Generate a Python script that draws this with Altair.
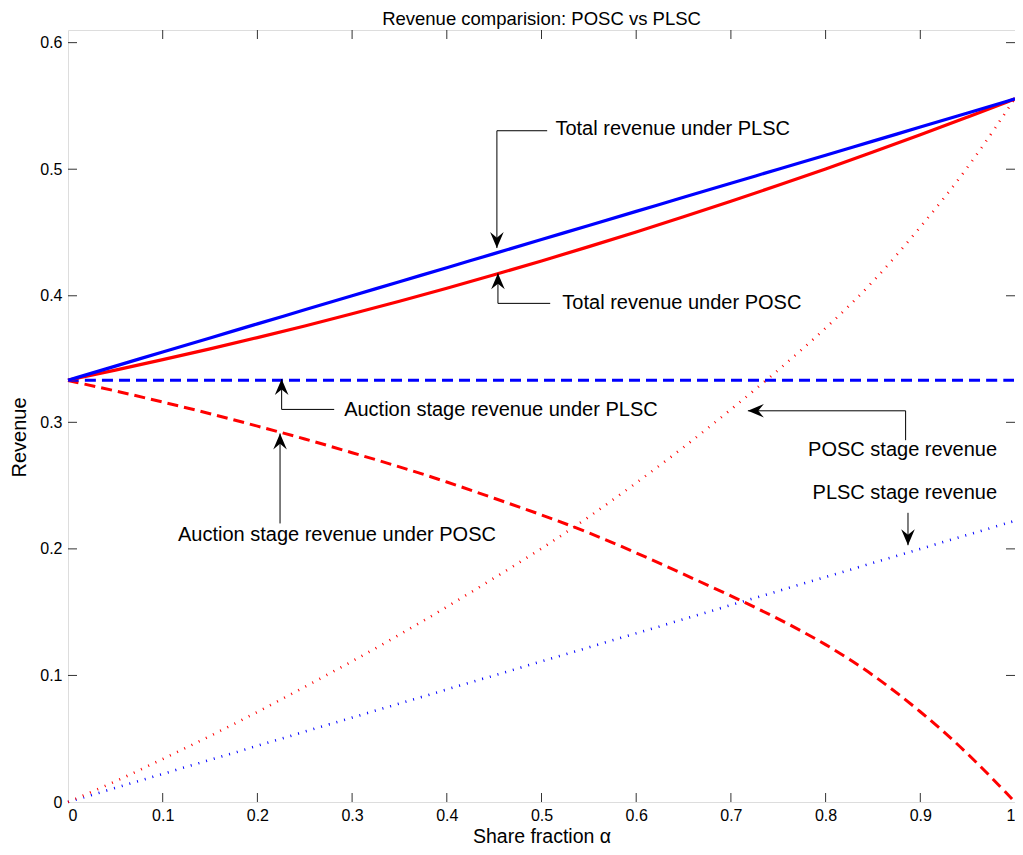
import altair as alt
import pandas as pd

FONT = "Liberation Sans"

# ---- data ----
alpha = [0.00, 0.05, 0.10, 0.15, 0.20, 0.25, 0.30, 0.35, 0.40, 0.45, 0.50,
         0.55, 0.60, 0.65, 0.70, 0.75, 0.80, 0.85, 0.90, 0.95, 1.00]
total_plsc = [0.3333, 0.3444, 0.3556, 0.3667, 0.3778, 0.3889, 0.4000, 0.4111, 0.4222, 0.4333,
              0.4444, 0.4556, 0.4667, 0.4778, 0.4889, 0.5000, 0.5111, 0.5222, 0.5333, 0.5444,
              0.5556]
total_posc = [0.3333, 0.3412, 0.3495, 0.3580, 0.3669, 0.3761, 0.3857, 0.3956, 0.4059, 0.4165,
              0.4274, 0.4388, 0.4504, 0.4623, 0.4746, 0.4872, 0.5002, 0.5135, 0.5272, 0.5412,
              0.5556]
auction_plsc = [0.3333] * 21
auction_posc = [0.333, 0.325, 0.316, 0.307, 0.297, 0.287, 0.276, 0.265, 0.253, 0.240, 0.227,
                0.213, 0.197, 0.180, 0.163, 0.145, 0.125, 0.101, 0.072, 0.039, 0.000]
stage_posc = [0.000, 0.016, 0.034, 0.052, 0.071, 0.091, 0.111, 0.132, 0.154, 0.177, 0.200,
              0.225, 0.252, 0.280, 0.310, 0.341, 0.374, 0.410, 0.454, 0.500, 0.556]
stage_plsc = [0.0000, 0.0111, 0.0222, 0.0333, 0.0444, 0.0556, 0.0667, 0.0778, 0.0889, 0.1000,
              0.1111, 0.1222, 0.1333, 0.1444, 0.1556, 0.1667, 0.1778, 0.1889, 0.2000, 0.2111,
              0.2222]

x_ticks = [0.0, 0.1, 0.2, 0.3, 0.4, 0.5, 0.6, 0.7, 0.8, 0.9, 1.0]
y_ticks = [0.0, 0.1, 0.2, 0.3, 0.4, 0.5, 0.6]
x_inner_ticks = [0.1, 0.2, 0.3, 0.4, 0.5, 0.6, 0.7, 0.8, 0.9]
y_inner_ticks = [0.1, 0.2, 0.3, 0.4, 0.5, 0.6]

title_text = "Revenue comparision: POSC vs PLSC"

# annotations (data coordinates)
ann_text = ["Total revenue under PLSC", "Total revenue under POSC",
            "Auction stage revenue under PLSC", "Auction stage revenue under POSC",
            "POSC stage revenue", "PLSC stage revenue"]
ann_tx = [0.5147, 0.522, 0.2916, 0.284, 0.9811, 0.9811]
ann_ty = [0.532, 0.3942, 0.3097, 0.2108, 0.278, 0.244]
ann_align = ["left", "left", "left", "center", "right", "right"]

seg_x = [0.506, 0.4529, 0.5092, 0.4540, 0.2811, 0.2256, 0.2239, 0.8845, 0.8845, 0.8870]
seg_y = [0.5304, 0.5304, 0.394, 0.394, 0.3102, 0.3102, 0.2201, 0.2859, 0.3091, 0.2285]
seg_x2 = [0.4529, 0.4529, 0.4540, 0.4540, 0.2256, 0.2256, 0.2239, 0.8845, 0.7179, 0.8870]
seg_y2 = [0.5304, 0.4377, 0.394, 0.4177, 0.3102, 0.3342, 0.2912, 0.3091, 0.3091, 0.2029]

tip_x = [0.4529, 0.4540, 0.2256, 0.2239, 0.7179, 0.8870]
tip_y = [0.4377, 0.4177, 0.3342, 0.2912, 0.3091, 0.2029]
tip_angle = [180, 0, 0, 0, 270, 180]

W, H = 947, 772
RED, BLUE = "#ff0000", "#0000ff"

label_expr = "datum.value == 0 ? '0' : datum.value == 1 ? '1' : format(datum.value, '.1f')"

x_scale = alt.Scale(domain=[0, 1], nice=False, zero=False)
y_scale = alt.Scale(domain=[0, 0.61], nice=False, zero=False)

x_axis = alt.Axis(values=x_ticks, labelExpr=label_expr, grid=False, ticks=False, domain=False,
                  labelFont=FONT, labelFontSize=16, labelColor="black", labelPadding=5,
                  title="Share fraction α", titleFont=FONT, titleFontSize=19.5,
                  titleFontWeight="normal", titleColor="black", titleBaseline="alphabetic",
                  titleAlign="center", titleX=W / 2, titleY=40)
y_axis = alt.Axis(values=y_ticks, labelExpr=label_expr, grid=False, ticks=False, domain=False,
                  labelFont=FONT, labelFontSize=16, labelColor="black", labelPadding=6,
                  title="Revenue", titleFont=FONT, titleFontSize=20, titleFontWeight="normal",
                  titleColor="black", titleAngle=-90, titleBaseline="alphabetic",
                  titleAlign="center", titleX=-43, titleY=407)

X = alt.X("alpha:Q", scale=x_scale, axis=x_axis)
Y = alt.Y("rev:Q", scale=y_scale, axis=y_axis)


def series(vals):
    return pd.DataFrame({"alpha": alpha, "rev": vals})


def line(vals, color, dash=None, width=3.0):
    kw = dict(color=color, strokeWidth=width, interpolate="basis", strokeCap="butt")
    if dash is not None:
        kw["strokeDash"] = dash
    return alt.Chart(series(vals)).mark_line(**kw).encode(x=X, y=Y)


lines = [
    line(stage_plsc, BLUE, [1, 7], 2.6),
    line(stage_posc, RED, [1, 7], 2.6),
    line(auction_posc, RED, [11, 6], 3.0),
    line(auction_plsc, BLUE, [11, 6], 3.0),
    line(total_posc, RED, None, 3.2),
    line(total_plsc, BLUE, None, 3.2),
]

xt = pd.DataFrame({"alpha": x_inner_ticks})
yt = pd.DataFrame({"rev": y_inner_ticks})
TICK = dict(color="#333333", strokeWidth=1)
ticks = [
    alt.Chart(xt).mark_rule(**TICK).encode(x=X, y=alt.value(H), y2=alt.value(H - 9)),
    alt.Chart(xt).mark_rule(**TICK).encode(x=X, y=alt.value(0), y2=alt.value(9)),
    alt.Chart(yt).mark_rule(**TICK).encode(y=Y, x=alt.value(0), x2=alt.value(9)),
    alt.Chart(yt).mark_rule(**TICK).encode(y=Y, x=alt.value(W), x2=alt.value(W - 9)),
]

segs = pd.DataFrame({"alpha": seg_x, "rev": seg_y, "alpha2": seg_x2, "rev2": seg_y2})
seg_layer = alt.Chart(segs).mark_rule(color="black", strokeWidth=1).encode(
    x=X, y=Y, x2="alpha2:Q", y2="rev2:Q")

ARROW = "M0,0 L0.85,2 L0,1.3 L-0.85,2 Z"
tips = pd.DataFrame({"alpha": tip_x, "rev": tip_y, "ang": tip_angle})
tip_layer = alt.Chart(tips).mark_point(shape=ARROW, filled=True, fill="black",
                                       size=256, opacity=1, strokeWidth=0).encode(
    x=X, y=Y, angle=alt.Angle("ang:Q", scale=None))

ann = pd.DataFrame({"alpha": ann_tx, "rev": ann_ty, "txt": ann_text, "al": ann_align})
text_layers = []
for al in ["left", "center", "right"]:
    sub = ann[ann["al"] == al]
    text_layers.append(
        alt.Chart(sub).mark_text(align=al, baseline="middle", font=FONT, fontSize=20,
                                 color="black").encode(x=X, y=Y, text="txt:N"))

title_layer = alt.Chart(pd.DataFrame({"t": [title_text]})).mark_text(
    align="center", baseline="alphabetic", font=FONT, fontSize=18.5, color="black"
).encode(x=alt.value(W / 2), y=alt.value(-5), text="t:N")

chart = alt.layer(*lines, *ticks, seg_layer, tip_layer, *text_layers, title_layer).properties(
    width=W, height=H,
    autosize=alt.AutoSizeParams(type="none"),
    padding={"left": 60, "top": 22, "right": 0, "bottom": 45},
).configure_view(stroke="black", strokeWidth=1.6).configure(background="white")

chart.save("out.html", embed_options={"renderer": "svg", "actions": False})
